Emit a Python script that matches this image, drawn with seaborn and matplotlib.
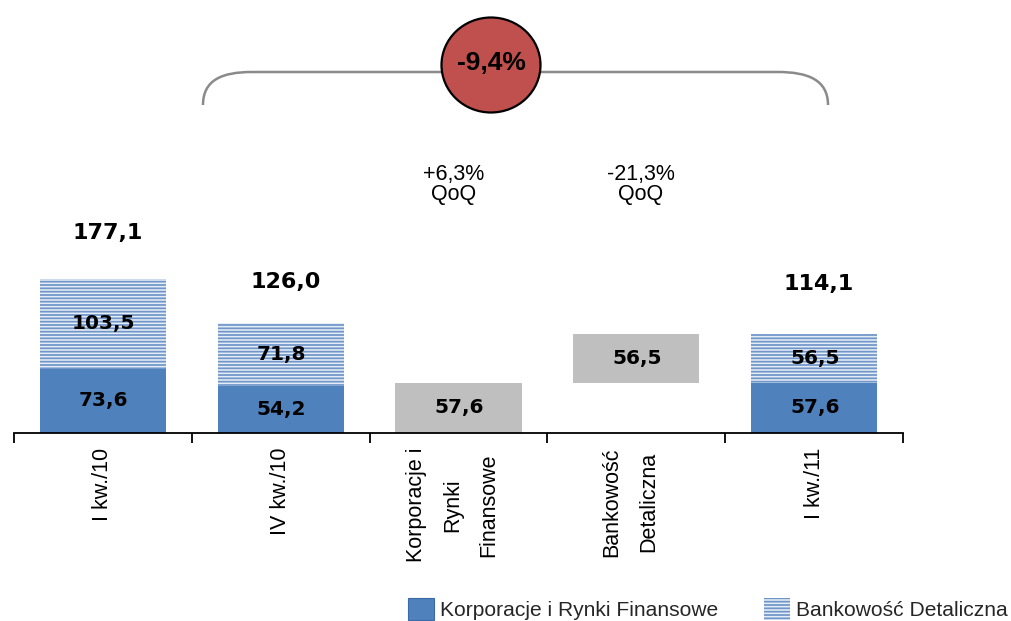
import numpy as np
import pandas as pd
import matplotlib
matplotlib.use("Agg")
import matplotlib.pyplot as plt
import matplotlib.transforms as mtrans
import seaborn as sns
from matplotlib.patches import Ellipse, Patch, PathPatch
from matplotlib.path import Path

# ---- data -------------------------------------------------------------
categories = ["I kw./10", "IV kw./10", "Korporacje i\nRynki\nFinansowe",
              "Bankowość\nDetaliczna", "I kw./11"]
korporacje = [73.6, 54.2, np.nan, np.nan, 57.6]
detaliczna = [103.5, 71.8, np.nan, np.nan, 56.5]
totals = [177.1, 126.0, np.nan, np.nan, 114.1]
bridge_base = [np.nan, np.nan, 0.0, 57.6, np.nan]
bridge_step = [np.nan, np.nan, 57.6, 56.5, np.nan]
qoq_labels = ["", "", "+6,3%\nQoQ", "-21,3%\nQoQ", ""]
yoy_label = "-9,4%"
series_names = ["Korporacje i Rynki Finansowe", "Bankowość Detaliczna"]

BLUE = "#4F81BD"
STRIPE = "#6F95C9"
STRIPE_BG = "#E4ECF6"
GREY = "#BFBFBF"
RED = "#C0504D"


def fmt(v):
    return f"{v:.1f}".replace(".", ",")


sns.set_theme(style="white")
plt.rcParams["hatch.linewidth"] = 1.25
plt.rcParams["font.family"] = ["DejaVu Sans"]

df = pd.DataFrame({
    "cat": categories,
    "korp": korporacje,
    "stack": np.array(korporacje) + np.array(detaliczna),
    "bbase": bridge_base,
    "bstep": bridge_step,
})

fig = plt.figure(figsize=(10.12, 6.21), dpi=100)
ax = fig.add_axes([14 / 1012, (621 - 433) / 621, 889 / 1012, 433 / 621])

W = 0.71
# upper (retail) segment: drawn as full stack, lower segment drawn over it
sns.barplot(data=df, x="cat", y="stack", order=categories, ax=ax,
            color=STRIPE_BG, edgecolor=STRIPE, hatch="-----", linewidth=0,
            width=W, errorbar=None, saturation=1)
sns.barplot(data=df, x="cat", y="korp", order=categories, ax=ax,
            color=BLUE, linewidth=0, width=W, errorbar=None, saturation=1)
# bridge steps between the quarters
bsub = df.dropna(subset=["bstep"])
sns.barplot(data=bsub, x="cat", y="bstep", order=categories, ax=ax,
            color=GREY, linewidth=0, width=W, errorbar=None, saturation=1,
            bottom=bsub["bbase"].to_numpy())

ax.set_xlim(-0.5, 4.5)
ax.set_ylim(0, 433 / 0.87)
ax.set_xlabel("")
ax.set_ylabel("")
ax.set_yticks([])
for s in ["left", "right", "top"]:
    ax.spines[s].set_visible(False)
ax.spines["bottom"].set_color("black")
ax.spines["bottom"].set_linewidth(1.3)

ax.set_xticks(range(len(categories)))
ax.set_xticks(np.arange(-0.5, len(categories), 1.0), minor=True)
ax.tick_params(axis="x", which="major", length=0, pad=10.5)
ax.tick_params(axis="x", which="minor", length=7, width=1.3, color="black",
               direction="out", bottom=True)
ax.set_xticklabels(categories, rotation=90, va="top", ha="center",
                   fontfamily="Liberation Sans", fontsize=15.5,
                   linespacing=1.95, multialignment="center", color="black")
# multi-line category names sit slightly left of the slot centre
nudge = mtrans.ScaledTranslation(-6 / 100, 0, fig.dpi_scale_trans)
for t in ax.get_xticklabels():
    if "\n" in t.get_text():
        t.set_transform(t.get_transform() + nudge)

lbl = dict(ha="center", va="center", fontsize=14.5, fontweight="bold",
           color="black", fontfamily="DejaVu Sans")
for i in range(len(categories)):
    k, d = korporacje[i], detaliczna[i]
    if not np.isnan(k):
        ax.text(i + 0.005, k / 2, fmt(k), **lbl)
        ax.text(i + 0.005, k + d / 2, fmt(d), **lbl)
    if not np.isnan(bridge_step[i]):
        ax.text(i + 0.005, bridge_base[i] + bridge_step[i] / 2,
                fmt(bridge_step[i]), **lbl)

# quarter totals above the stacks
total_lift = [52.8, 47.0, 0, 0, 57.7]
for i, t in enumerate(totals):
    if not np.isnan(t):
        ax.text(i + 0.028, t + total_lift[i], fmt(t), ha="center",
                va="center", fontsize=16, fontweight="bold", color="black")

qoq_shift = [0, 0, -0.025, 0.025, 0]
for i, q in enumerate(qoq_labels):
    if q:
        ax.text(i + qoq_shift[i], 286, q, ha="center", va="center",
                fontsize=15.5, fontfamily="Liberation Sans",
                linespacing=0.95, color="black")

# year-on-year bracket with the change bubble
ov = fig.add_axes([0, 0, 1, 1], zorder=5)
ov.set_xlim(0, 1012)
ov.set_ylim(621, 0)
ov.axis("off")
verts = [(203, 105), (203, 80), (222, 72), (252, 72),
         (778, 72),
         (808, 72), (828, 80), (828, 105)]
codes = [Path.MOVETO, Path.CURVE4, Path.CURVE4, Path.CURVE4,
         Path.LINETO,
         Path.CURVE4, Path.CURVE4, Path.CURVE4]
ov.add_patch(PathPatch(Path(verts, codes), facecolor="none",
                       edgecolor="#8A8A8A", lw=1.8))
ov.add_patch(Ellipse((491, 65), 99, 95, facecolor=RED, edgecolor="black",
                     lw=1.6, zorder=3))
ov.text(491, 63, yoy_label, ha="center", va="center", fontsize=19,
        fontweight="bold", fontfamily="Liberation Sans", color="black",
        zorder=4)

handles = [Patch(facecolor=BLUE, edgecolor="#3A6BA8", lw=0.8),
           Patch(facecolor=STRIPE_BG, edgecolor=STRIPE, hatch="-----", lw=0)]
fig.legend(handles, series_names, loc="center left",
           bbox_to_anchor=(389 / 1012, 1 - 609 / 621), ncol=2, frameon=False,
           handlelength=1.25, handleheight=1.25, handletextpad=0.3,
           columnspacing=2.15,
           prop={"family": "Liberation Sans", "size": 15.1})

fig.savefig("out.png", dpi=100)
